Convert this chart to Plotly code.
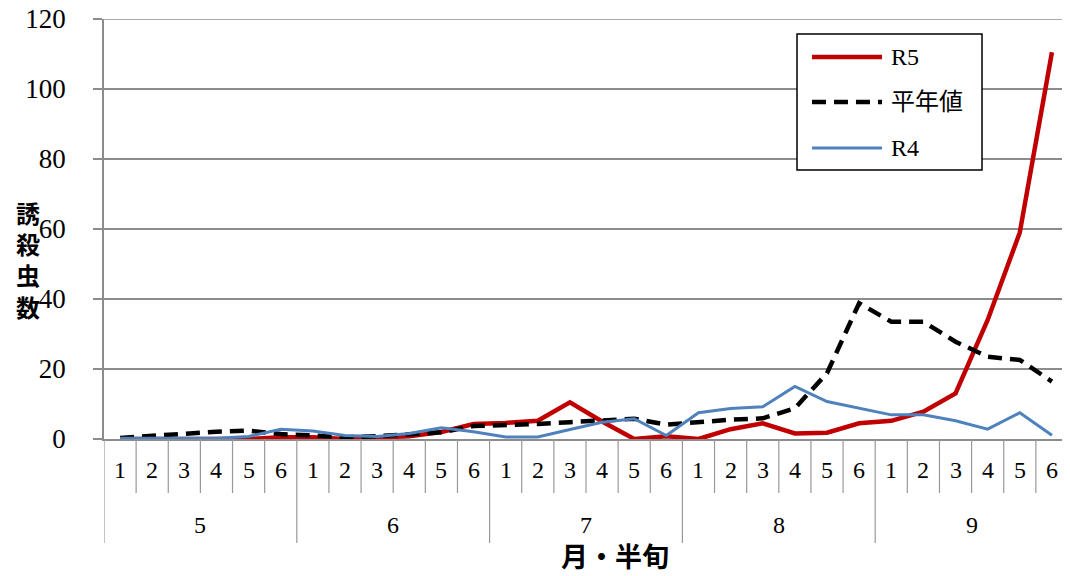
import plotly.graph_objects as go

months = ["5", "6", "7", "8", "9"]
halves = ["1", "2", "3", "4", "5", "6"]

r5 = [0, 0, 0, 0, 0, 0.5, 0.5, 0, 0.3, 0.8, 2.0, 4.3, 4.6, 5.2, 10.5, 5.0,
      0, 0.8, 0, 2.8, 4.5, 1.6, 1.8, 4.5, 5.2, 7.8, 13.0, 34.0, 59.0, 110.5]
heinen = [0.3, 1.0, 1.6, 2.1, 2.4, 1.4, 1.0, 0.5, 0.8, 1.2, 1.9, 3.7, 3.9, 4.3, 4.8,
          5.4, 5.8, 4.1, 4.9, 5.5, 5.9, 8.8, 18.8, 38.8, 33.5, 33.5, 27.8, 23.5, 22.6, 16.4]
r4 = [0.2, 0.2, 0.2, 0.2, 0.7, 2.8, 2.3, 1.0, 0.7, 1.6, 3.2, 2.1, 0.6, 0.6, 2.7,
      4.8, 5.8, 1.0, 7.5, 8.7, 9.2, 15.0, 10.7, 8.8, 6.9, 6.9, 5.2, 2.8, 7.5, 1.1]
series_names = ["R5", "平年値", "R4"]
y_title_chars = ["誘", "殺", "虫", "数"]
x_title = "月・半旬"
y_ticks = [0, 20, 40, 60, 80, 100, 120]

n_half = len(halves)
n = len(months) * n_half
xi = list(range(n))
inner_labels = [h for _ in months for h in halves]

serif = "Liberation Serif, DejaVu Serif, serif"
cjk = "Noto Sans CJK JP, sans-serif"
mixed = "Liberation Serif, Noto Sans CJK JP, serif"

styles = [
    dict(color="#C00000", width=4.5),
    dict(color="#000000", width=4.5, dash="14px,8px"),
    dict(color="#4F81BD", width=3),
]

fig = go.Figure()
for name, vals, st in zip(series_names, [r5, heinen, r4], styles):
    fig.add_trace(go.Scatter(x=xi, y=vals, mode="lines", name=name, line=st,
                             showlegend=False))

# the page body adds an 8px offset; the figure is sized to compensate
grid = "#8c8c8c"
fig.update_layout(
    width=1062, height=568,
    margin=dict(l=96, r=2, t=11, b=137, autoexpand=False),
    paper_bgcolor="white", plot_bgcolor="white",
    font=dict(family=serif, size=26, color="black"),
    xaxis=dict(range=[-0.5, n - 0.5], showgrid=False, zeroline=False,
               showline=True, linecolor=grid, linewidth=1.5,
               showticklabels=False, ticks=""),
    yaxis=dict(range=[0, y_ticks[-1]], tickmode="array", tickvals=y_ticks,
               showgrid=True, gridcolor=grid, gridwidth=1.5,
               showline=True, linecolor=grid, linewidth=1.5, zeroline=False,
               ticks="outside", ticklen=9, tickcolor=grid, tickwidth=1.5,
               ticklabelstandoff=22, ticklabeloverflow="allow",
               tickfont=dict(family=serif, size=27)),
)

shapes = []
for k in range(n + 1):
    major = (k % n_half == 0)
    shapes.append(dict(type="line", xref="x", yref="paper",
                       x0=k - 0.5, x1=k - 0.5, y0=0, y1=-(104 if major else 54) / 420,
                       line=dict(color="#999999", width=1.2)))
shapes.append(dict(type="line", xref="paper", yref="y", x0=0, x1=1,
                   y0=y_ticks[-1], y1=y_ticks[-1], line=dict(color=grid, width=1.5)))
annotations = []
for i, lab in enumerate(inner_labels):
    annotations.append(dict(text=lab, x=i, xref="x", y=0, yref="paper",
                            yshift=-31, showarrow=False, yanchor="middle",
                            font=dict(family=serif, size=24)))
for m, lab in enumerate(months):
    annotations.append(dict(text=lab, x=m * n_half + (n_half - 1) / 2, xref="x",
                            y=0, yref="paper", yshift=-86, showarrow=False,
                            yanchor="middle", font=dict(family=serif, size=24)))

# legend box
shapes.append(dict(type="rect", xref="paper", yref="paper",
                   x0=0.7189, x1=0.9108, y0=0.6405, y1=0.9643,
                   fillcolor="white", line=dict(color="black", width=1.5)))
leg_y = [0.9095, 0.8024, 0.6929]
for name, st, yy in zip(series_names, styles, leg_y):
    shapes.append(dict(type="line", xref="paper", yref="paper",
                       x0=0.7344, x1=0.8071, y0=yy, y1=yy, line=st))
    annotations.append(dict(text=name, xref="paper", yref="paper", x=0.8143, y=yy,
                            xanchor="left", yanchor="middle", showarrow=False,
                            font=dict(family=mixed, size=24)))

annotations.append(dict(text="<br>".join(y_title_chars), xref="paper", yref="paper",
                        x=-0.0788, y=(439 - 260) / 420,
                        xanchor="center", yanchor="middle", showarrow=False,
                        font=dict(family=cjk, size=24, color="black", weight="bold")))
annotations.append(dict(text=x_title, xref="paper", yref="paper",
                        x=0.530, y=-0.278, xanchor="center", yanchor="middle",
                        showarrow=False,
                        font=dict(family=cjk, size=27, color="black", weight="bold")))

fig.update_layout(shapes=shapes, annotations=annotations)
fig.write_html("out.html")
